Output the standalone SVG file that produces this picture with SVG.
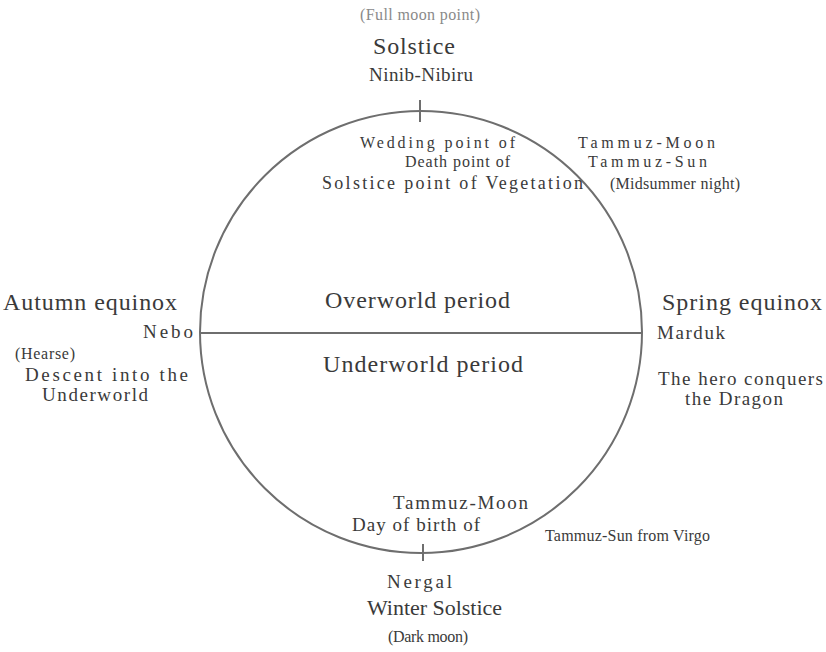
<svg xmlns="http://www.w3.org/2000/svg" width="826" height="652" viewBox="0 0 826 652">
<style>
text{font-family:"Liberation Serif","Times New Roman",serif;fill:#3a3a3a}
.lg{font-size:24px}
.ws{font-size:22px}
.md{font-size:19px}
.vg{font-size:18px}
.tg{font-size:16px}
.sm{font-size:16px}
.faint{fill:#8a8a8a}
.ln{fill:none;stroke:#6e6e6e;stroke-width:2}
</style>
<rect width="826" height="652" fill="#ffffff"/>
<g id="wheel">
<circle class="ln" cx="421" cy="332" r="221"/>
<line class="ln" x1="420" y1="100" x2="420" y2="122" stroke-width="1.5"/>
<line class="ln" x1="423" y1="544" x2="423" y2="561" stroke-width="1.5"/>
</g>
<g id="connectors">
<line class="ln" x1="200" y1="333" x2="642" y2="333"/>
</g>
<g id="top-solstice">
<text class="sm faint" x="360" y="20" textLength="120" lengthAdjust="spacing">(Full moon point)</text>
<text class="lg" x="373" y="54" textLength="82" lengthAdjust="spacing">Solstice</text>
<text class="md" x="369" y="81" textLength="104" lengthAdjust="spacing">Ninib-Nibiru</text>
</g>
<g id="vegetation">
<text class="tg" x="360" y="148" textLength="155" lengthAdjust="spacing">Wedding point of</text>
<text class="tg" x="405" y="167" textLength="105" lengthAdjust="spacing">Death point of</text>
<text class="vg" x="322" y="189" textLength="261" lengthAdjust="spacing">Solstice point of Vegetation</text>
</g>
<g id="midsummer">
<text class="tg" x="578" y="148" textLength="137" lengthAdjust="spacing">Tammuz-Moon</text>
<text class="tg" x="588" y="167" textLength="119" lengthAdjust="spacing">Tammuz-Sun</text>
<text class="tg" x="610" y="189" textLength="130" lengthAdjust="spacing">(Midsummer night)</text>
</g>
<g id="autumn">
<text class="lg" x="3" y="310" textLength="174" lengthAdjust="spacing">Autumn equinox</text>
<text class="md" x="143" y="338" textLength="50" lengthAdjust="spacing">Nebo</text>
<text class="tg" x="15" y="359" textLength="60" lengthAdjust="spacing">(Hearse)</text>
<text class="md" x="25" y="381" textLength="163" lengthAdjust="spacing">Descent into the</text>
<text class="md" x="42" y="401" textLength="106" lengthAdjust="spacing">Underworld</text>
</g>
<g id="spring">
<text class="lg" x="662" y="310" textLength="160" lengthAdjust="spacing">Spring equinox</text>
<text class="md" x="657" y="339" textLength="68" lengthAdjust="spacing">Marduk</text>
<text class="md" x="658" y="385" textLength="165" lengthAdjust="spacing">The hero conquers</text>
<text class="md" x="685" y="405" textLength="98" lengthAdjust="spacing">the Dragon</text>
</g>
<g id="overworld">
<text class="lg" x="325" y="308" textLength="185" lengthAdjust="spacing">Overworld period</text>
</g>
<g id="underworld">
<text class="lg" x="323" y="372" textLength="200" lengthAdjust="spacing">Underworld period</text>
</g>
<g id="birth">
<text class="md" x="393" y="509" textLength="135" lengthAdjust="spacing">Tammuz-Moon</text>
<text class="md" x="352" y="531" textLength="128" lengthAdjust="spacing">Day of birth of</text>
<text class="tg" x="545" y="541" textLength="165" lengthAdjust="spacing">Tammuz-Sun from Virgo</text>
</g>
<g id="winter-solstice">
<text class="md" x="387" y="588" textLength="65" lengthAdjust="spacing">Nergal</text>
<text class="ws" x="367" y="615" textLength="135" lengthAdjust="spacing">Winter Solstice</text>
<text class="sm" x="388" y="642" textLength="80" lengthAdjust="spacing">(Dark moon)</text>
</g>
</svg>
